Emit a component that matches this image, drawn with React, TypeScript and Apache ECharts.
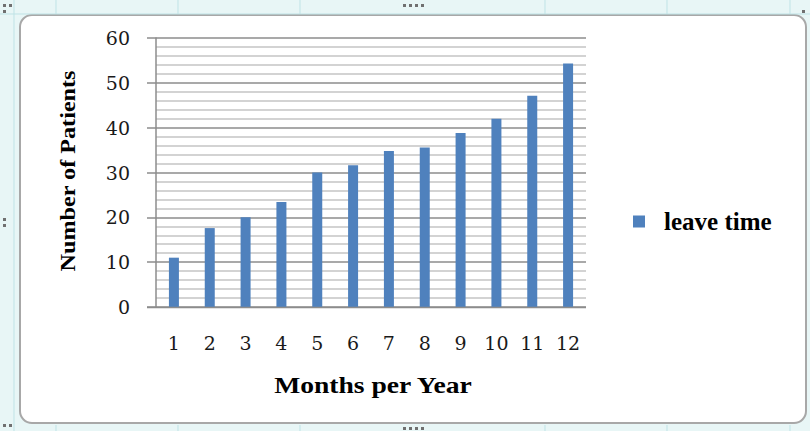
import React, { useEffect, useRef } from "react";
import * as echarts from "echarts";

const months = ["1", "2", "3", "4", "5", "6", "7", "8", "9", "10", "11", "12"];
const leaveTime = [11, 17.6, 20, 23.4, 30, 31.6, 34.8, 35.6, 38.8, 42, 47.1, 54.3];
const seriesName = "leave time";
const yTitle = "Number of Patients";
const xTitle = "Months per Year";

// sheet column lines visible around the chart frame
const sheetCols = [56, 178, 300, 545, 667, 790];

export default function App() {
  const ref = useRef<HTMLDivElement>(null);

  useEffect(() => {
    if (!ref.current) return;
    const chart = echarts.init(ref.current, undefined, { renderer: "svg" });
    const tickFont = { fontFamily: "DejaVu Serif", fontSize: 19, color: "#1a1a1a" };
    const sheetLines: any[] = [];
    sheetCols.forEach((x) => {
      sheetLines.push({ type: "line", shape: { x1: x, y1: 0, x2: x, y2: 14 }, style: { stroke: "#bfe3e6", lineWidth: 1 }, z: 1 });
      sheetLines.push({ type: "line", shape: { x1: x, y1: 425, x2: x, y2: 431 }, style: { stroke: "#bfe3e6", lineWidth: 1 }, z: 1 });
    });
    const handles: any[] = [
      [3, 4], [9, 4], [3, 10], [403, 4], [409, 4], [415, 4], [421, 4], [802, 10],
      [3, 424], [9, 424], [3, 218], [3, 224], [403, 427], [409, 427], [415, 427], [421, 427],
    ].map(([x, y]) => ({ type: "rect", shape: { x, y, width: 3, height: 3 }, style: { fill: "#707070" }, z: 3 }));

    chart.setOption({
      animation: false,
      backgroundColor: "#e8f6f6",
      graphic: [
        ...sheetLines,
        { type: "line", shape: { x1: 0, y1: 14, x2: 810, y2: 14 }, style: { stroke: "#bfe3e6", lineWidth: 1 }, z: 1 },
        { type: "line", shape: { x1: 14, y1: 0, x2: 14, y2: 431 }, style: { stroke: "#bfe3e6", lineWidth: 1 }, z: 1 },
        {
          type: "rect",
          shape: { x: 20, y: 15, width: 786, height: 408, r: 12 },
          style: { fill: "#ffffff", stroke: "#a8a8a8", lineWidth: 2 },
          z: -1,
        },
        ...handles,
        // x-axis baseline reaching out to the tick marks
        { type: "line", shape: { x1: 147, y1: 307.5, x2: 586, y2: 307.5 }, style: { stroke: "#8c8c8c", lineWidth: 1.5 }, z: 10 },
        {
          type: "text",
          x: 67,
          y: 171,
          rotation: Math.PI / 2,
          scaleX: 1.1,
          style: {
            text: yTitle,
            font: "bold 22px 'Liberation Serif'",
            fill: "#000",
            align: "center",
            verticalAlign: "middle",
          },
        },
        {
          type: "text",
          x: 373,
          y: 385,
          scaleX: 1.2,
          style: {
            text: xTitle,
            font: "bold 23px 'Liberation Serif'",
            fill: "#000",
            align: "center",
            verticalAlign: "middle",
          },
        },
      ],
      legend: {
        left: 628,
        top: 204,
        orient: "vertical",
        icon: "rect",
        itemWidth: 12,
        itemHeight: 12,
        data: [seriesName],
        textStyle: {
          fontFamily: "Liberation Serif",
          fontWeight: "bold",
          fontSize: 25,
          color: "#000",
          padding: [0, 0, 0, 14],
        },
      },
      grid: { left: 156, right: 224, top: 38, bottom: 124, containLabel: false },
      xAxis: {
        type: "category",
        data: months,
        axisLine: { show: false },
        axisTick: { show: false },
        axisLabel: { ...tickFont, margin: 26, interval: 0 },
      },
      yAxis: {
        type: "value",
        min: 0,
        max: 60,
        interval: 10,
        axisLine: { show: true, lineStyle: { color: "#8c8c8c", width: 1.5 } },
        axisTick: { show: true, length: 9, lineStyle: { color: "#8c8c8c", width: 1.5 } },
        axisLabel: { ...tickFont, margin: 26 },
        splitLine: { show: true, lineStyle: { color: "#8c8c8c", width: 1.5 } },
        minorTick: { show: false, splitNumber: 5 },
        minorSplitLine: { show: true, lineStyle: { color: "#c4c4c4", width: 1.5 } },
      },
      series: [
        {
          name: seriesName,
          type: "bar",
          data: leaveTime,
          barWidth: 10,
          itemStyle: { color: "#4f81bd" },
        },
      ],
    });
    return () => chart.dispose();
  }, []);

  return <div ref={ref} style={{ width: 810, height: 431, position: "absolute", left: 0, top: 0 }} />;
}
